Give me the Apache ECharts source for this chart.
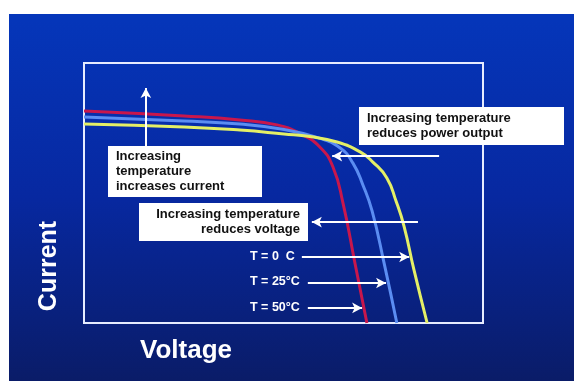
<!DOCTYPE html>
<html>
<head>
<meta charset="utf-8">
<script src="https://cdn.jsdelivr.net/npm/echarts@6/dist/echarts.min.js"></script>
<style>
  html, body { margin: 0; padding: 0; background: #ffffff; width: 574px; height: 381px; overflow: hidden; }
  #chart { position: absolute; left: 9px; top: 14px; width: 565px; height: 367px; }
</style>
</head>
<body>
<div id="chart"></div>
<script>
// I-V curves of a solar cell at three temperatures (arbitrary units, 0-100)
const voltage50 = [0, 25.1, 39.1, 48.4, 54.1, 59.1, 62.4, 64.9, 67.9, 70.9];
const current50 = [81.5, 79.6, 78.1, 76.2, 72.9, 67.7, 60.0, 46.2, 23.1, 0];

const voltage25 = [0, 25.1, 39.1, 49.4, 58.6, 64.2, 67.4, 69.9, 72.2, 75.2, 78.4];
const current25 = [79.2, 77.7, 76.5, 74.6, 71.3, 67.3, 61.5, 53.1, 43.1, 23.1, 0];

const voltage0 = [0, 25.1, 39.1, 50.1, 56.6, 63.4, 69.2, 72.4, 75.9, 78.2, 80.2, 82.7, 86.0];
const current0 = [76.5, 75.4, 74.2, 72.7, 71.7, 69.6, 65.8, 61.9, 55.8, 46.9, 37.3, 20.4, 0];

const seriesNames = ['T = 50°C', 'T = 25°C', 'T = 0  C'];

// Annotation arrows in data units: [x1, y1, x2, y2], head at the second point
const arrowCurrent = [15.5, 66.2, 15.5, 90.4];
const arrowPower   = [89.0, 64.2, 62.2, 64.2];
const arrowVoltage = [83.7, 38.8, 57.1, 38.8];
const arrowT0      = [54.6, 25.4, 81.5, 25.4];
const arrowT25     = [56.1, 15.4, 75.7, 15.4];
const arrowT50     = [56.1, 5.8, 69.7, 5.8];

const zip = (xs, ys) => xs.map((x, i) => [x, ys[i]]);
const arrows = [arrowCurrent, arrowPower, arrowVoltage, arrowT0, arrowT25, arrowT50]
  .map(a => [{ coord: [a[0], a[1]] }, { coord: [a[2], a[3]] }]);

const chart = echarts.init(document.getElementById('chart'));
const FONT = '"Liberation Sans", Arial, sans-serif';

const boxText = (x, y, w, h, lines, align) => ({
  type: 'group',
  z: 100,
  children: [
    { type: 'rect', shape: { x: x, y: y, width: w, height: h },
      style: { fill: '#ffffff' }, z: 100 },
    { type: 'text', z: 101,
      style: {
        x: align === 'right' ? x + w - 8 : x + 8,
        y: y + h / 2,
        text: lines.join('\n'),
        fill: '#111111',
        font: 'bold 13px ' + FONT,
        lineHeight: 15,
        align: align,
        verticalAlign: 'middle'
      } }
  ]
});

const whiteLabel = (x, y, text) => ({
  type: 'text', z: 100,
  style: { x: x, y: y, text: text, fill: '#ffffff', font: 'bold 12.5px ' + FONT,
           verticalAlign: 'middle' }
});

const curve = (name, xs, ys, color) => ({
  name: name, type: 'line', data: zip(xs, ys),
  smooth: 0.5, showSymbol: false, silent: true,
  lineStyle: { color: color, width: 3 }
});

const hot = curve(seriesNames[0], voltage50, current50, '#c8174c');
hot.markLine = {
  silent: true,
  symbol: ['none', 'arrow'],
  symbolSize: [8, 10],
  label: { show: false },
  lineStyle: { color: '#ffffff', width: 2, type: 'solid' },
  data: arrows
};

chart.setOption({
  animation: false,
  backgroundColor: new echarts.graphic.LinearGradient(0, 0, 0, 1, [
    { offset: 0, color: '#0536ba' },
    { offset: 0.5, color: '#0728a0' },
    { offset: 1, color: '#0a1c68' }
  ]),
  grid: {
    left: 75, top: 49, width: 399, height: 260,
    show: true, borderColor: '#e6ecff', borderWidth: 2,
    backgroundColor: 'transparent'
  },
  xAxis: { type: 'value', min: 0, max: 100, show: false },
  yAxis: { type: 'value', min: 0, max: 100, show: false },
  series: [
    hot,
    curve(seriesNames[1], voltage25, current25, '#5b8df2'),
    curve(seriesNames[2], voltage0, current0, '#e4ef66')
  ],
  graphic: [
    boxText(99, 132, 154, 51, ['Increasing', 'temperature', 'increases current'], 'left'),
    boxText(350, 93, 205, 38, ['Increasing temperature', 'reduces power output'], 'left'),
    boxText(130, 189, 169, 38, ['Increasing temperature', 'reduces voltage'], 'right'),
    whiteLabel(241, 243, seriesNames[2]),
    whiteLabel(241, 268, seriesNames[1]),
    whiteLabel(241, 294, seriesNames[0]),
    {
      type: 'text', z: 100,
      style: { x: 131, y: 337, text: 'Voltage', fill: '#ffffff',
               font: 'bold 26px ' + FONT, verticalAlign: 'middle' }
    },
    {
      type: 'text', z: 100, x: 40, y: 252, rotation: Math.PI / 2,
      style: { x: 0, y: 0, text: 'Current', fill: '#ffffff',
               font: 'bold 25px ' + FONT, align: 'center', verticalAlign: 'middle' }
    }
  ]
});
</script>
</body>
</html>
